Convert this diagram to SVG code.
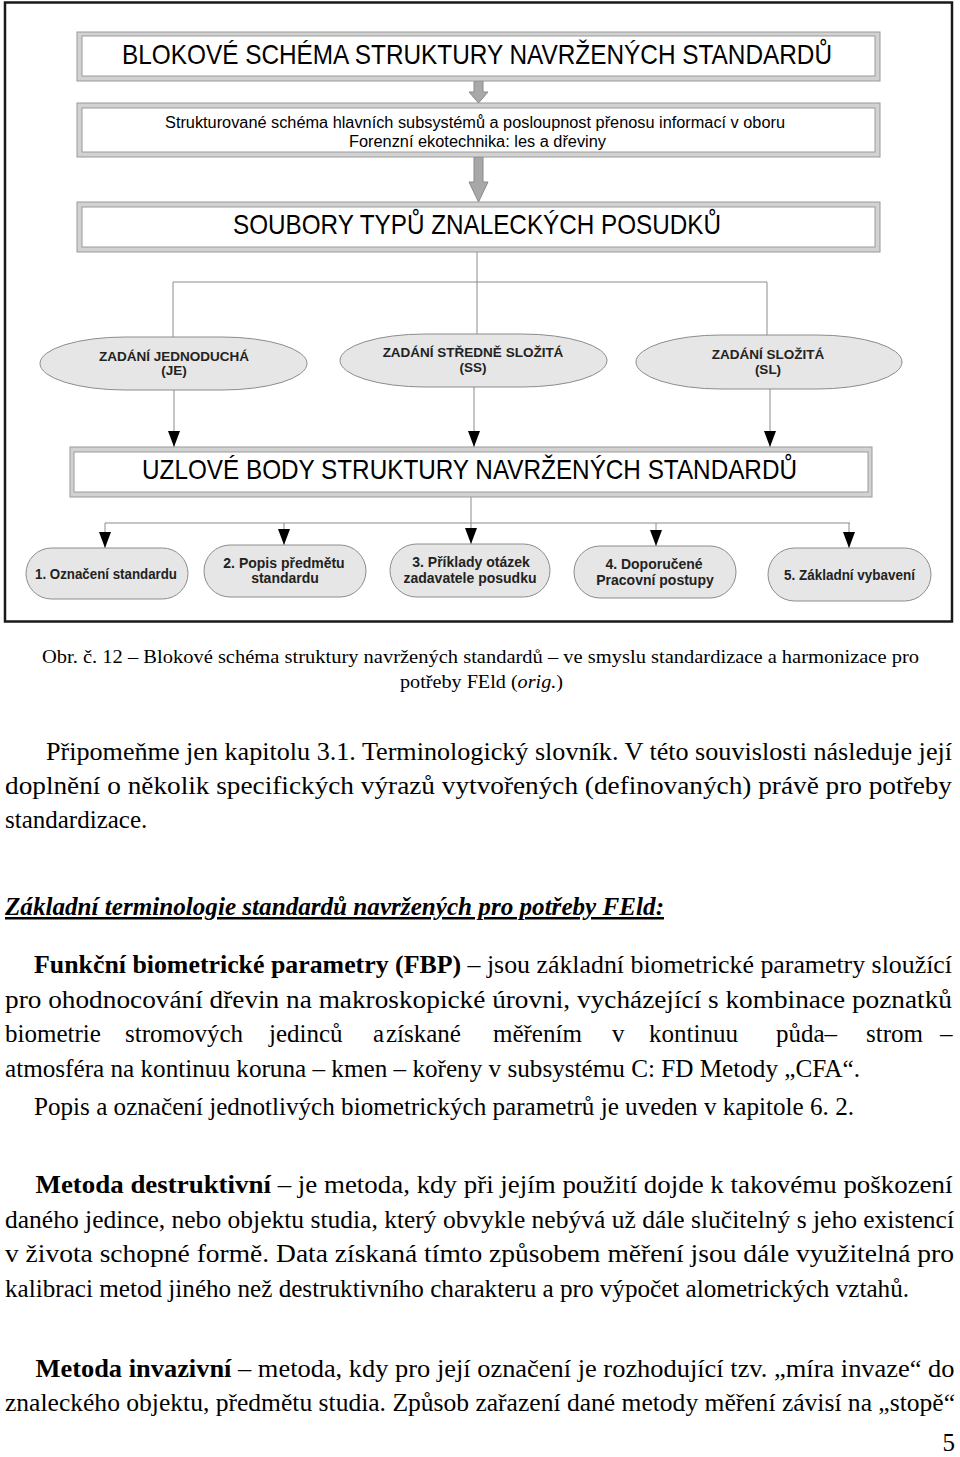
<svg xmlns="http://www.w3.org/2000/svg" width="960" height="1457" viewBox="0 0 960 1457">
<style>
.frame{fill:none;stroke:#1a1a1a;stroke-width:2.5}
.bo{fill:#d2d2d2;stroke:#9a9a9a;stroke-width:1}
.bi{fill:#fff;stroke:#9a9a9a;stroke-width:1}
.ell{fill:#e6e6e6;stroke:#8c8c8c;stroke-width:1}
.blk{fill:#a8a8a8;stroke:#8a8a8a;stroke-width:1}
.conn{fill:none;stroke:#8c8c8c;stroke-width:1}
.big{font-family:"Liberation Sans",Arial,sans-serif;font-size:28px;fill:#000}
.sub{font-family:"Liberation Sans",Arial,sans-serif;font-size:16px;fill:#000}
.nd{font-family:"Liberation Sans",Arial,sans-serif;font-size:13.5px;font-weight:bold;fill:#222;text-anchor:middle}
.nd2{font-family:"Liberation Sans",Arial,sans-serif;font-size:14px;font-weight:bold;fill:#222;text-anchor:middle}
.cap{font-family:"Liberation Serif","Times New Roman",serif;font-size:19.5px;fill:#000}
.bt{font-family:"Liberation Serif","Times New Roman",serif;font-size:25px;fill:#000}
.b{font-weight:bold}
</style>
<defs>
<marker id="tri" viewBox="0 0 16 12" refX="16" refY="6" markerWidth="16" markerHeight="12" markerUnits="userSpaceOnUse" orient="auto">
<path d="M0,0 L16,6 L0,12 z" fill="#000"/>
</marker>
</defs>
<rect width="960" height="1457" fill="#fff"/>
<rect class="frame" x="5" y="2.5" width="947" height="619"/>

<g id="connectors">
<path class="blk" d="M474,81 L483,81 L483,92 L488,92 L478.5,103 L469,92 L474,92 z"/>
<path class="blk" d="M474,157 L483,157 L483,182 L488,182 L478.5,202 L469,182 L474,182 z"/>
<line class="conn" x1="477" y1="252" x2="477" y2="334"/>
<line class="conn" x1="173" y1="282" x2="767" y2="282"/>
<line class="conn" x1="173" y1="282" x2="173" y2="337"/>
<line class="conn" x1="767" y1="282" x2="767" y2="335"/>
<line class="conn" x1="174" y1="390" x2="174" y2="447" marker-end="url(#tri)"/>
<line class="conn" x1="474" y1="387" x2="474" y2="447" marker-end="url(#tri)"/>
<line class="conn" x1="770" y1="389" x2="770" y2="447" marker-end="url(#tri)"/>
<line class="conn" x1="471" y1="497" x2="471" y2="544" marker-end="url(#tri)"/>
<line class="conn" x1="105" y1="523" x2="850" y2="523"/>
<line class="conn" x1="105" y1="523" x2="105" y2="548" marker-end="url(#tri)"/>
<line class="conn" x1="284" y1="523" x2="284" y2="545" marker-end="url(#tri)"/>
<line class="conn" x1="656" y1="523" x2="656" y2="546" marker-end="url(#tri)"/>
<line class="conn" x1="849" y1="523" x2="849" y2="548" marker-end="url(#tri)"/>
</g>

<g id="title">
<rect class="bo" x="77" y="32" width="803" height="49"/>
<rect class="bi" x="82" y="36" width="793" height="40"/>
<text class="big" x="122" y="63.5" textLength="710" lengthAdjust="spacingAndGlyphs">BLOKOVÉ SCHÉMA STRUKTURY NAVRŽENÝCH STANDARDŮ</text>
</g>
<g id="subtitle">
<rect class="bo" x="77" y="103" width="803" height="54"/>
<rect class="bi" x="82" y="108" width="793" height="44"/>
<text class="sub" x="165" y="128" textLength="620" lengthAdjust="spacingAndGlyphs">Strukturované schéma hlavních subsystémů a posloupnost přenosu informací v oboru</text>
<text class="sub" x="349" y="147" textLength="257" lengthAdjust="spacingAndGlyphs">Forenzní ekotechnika: les a dřeviny</text>
</g>
<g id="soubory">
<rect class="bo" x="77" y="202" width="803" height="50"/>
<rect class="bi" x="82" y="207" width="793" height="40"/>
<text class="big" x="233" y="233.5" textLength="488" lengthAdjust="spacingAndGlyphs">SOUBORY TYPŮ ZNALECKÝCH POSUDKŮ</text>
</g>

<g id="je">
<rect class="ell" x="40" y="337" width="267" height="53" rx="85" ry="26.5"/>
<text class="nd" x="174" y="361">ZADÁNÍ JEDNODUCHÁ</text>
<text class="nd" x="174" y="375">(JE)</text>
</g>
<g id="ss">
<rect class="ell" x="340" y="334" width="267" height="53" rx="85" ry="26.5"/>
<text class="nd" x="473" y="357">ZADÁNÍ STŘEDNĚ SLOŽITÁ</text>
<text class="nd" x="473" y="372">(SS)</text>
</g>
<g id="sl">
<rect class="ell" x="636" y="335" width="266" height="54" rx="85" ry="27"/>
<text class="nd" x="768" y="359">ZADÁNÍ SLOŽITÁ</text>
<text class="nd" x="768" y="374">(SL)</text>
</g>

<g id="uzlove">
<rect class="bo" x="70" y="447" width="802" height="50"/>
<rect class="bi" x="74" y="452" width="794" height="40"/>
<text class="big" x="142" y="478.5" textLength="655" lengthAdjust="spacingAndGlyphs">UZLOVÉ BODY STRUKTURY NAVRŽENÝCH STANDARDŮ</text>
</g>

<g id="p1">
<rect class="ell" x="26" y="548" width="162" height="51" rx="25.5"/>
<text class="nd2" x="106" y="579" textLength="142" lengthAdjust="spacingAndGlyphs">1. Označení standardu</text>
</g>
<g id="p2">
<rect class="ell" x="204" y="545" width="162" height="52" rx="26"/>
<text class="nd2" x="284" y="568">2. Popis předmětu</text>
<text class="nd2" x="285" y="583">standardu</text>
</g>
<g id="p3">
<rect class="ell" x="390" y="544" width="160" height="53" rx="26.5"/>
<text class="nd2" x="471" y="567">3. Příklady otázek</text>
<text class="nd2" x="470" y="583">zadavatele posudku</text>
</g>
<g id="p4">
<rect class="ell" x="574" y="546" width="162" height="52" rx="26"/>
<text class="nd2" x="654" y="569">4. Doporučené</text>
<text class="nd2" x="655" y="585">Pracovní postupy</text>
</g>
<g id="p5">
<rect class="ell" x="768" y="548" width="163" height="53" rx="26.5"/>
<text class="nd2" x="849.5" y="580" textLength="131" lengthAdjust="spacingAndGlyphs">5. Základní vybavení</text>
</g>

<g id="caption">
<text class="cap" x="42" y="663" textLength="877" lengthAdjust="spacingAndGlyphs">Obr. č. 12 – Blokové schéma struktury navržených standardů – ve smyslu standardizace a harmonizace pro</text>
<text class="cap" x="400" y="688" textLength="163" lengthAdjust="spacingAndGlyphs">potřeby FEld (<tspan font-style="italic">orig.</tspan>)</text>
</g>

<g id="body">
<text class="bt" x="46" y="760" textLength="906" lengthAdjust="spacingAndGlyphs">Připomeňme jen kapitolu 3.1. Terminologický slovník. V této souvislosti následuje její</text>
<text class="bt" x="5" y="794" textLength="947" lengthAdjust="spacingAndGlyphs">doplnění o několik specifických výrazů vytvořených (definovaných) právě pro potřeby</text>
<text class="bt" x="5" y="828">standardizace.</text>

<text class="bt" x="5" y="915" textLength="659" lengthAdjust="spacingAndGlyphs" font-weight="bold" font-style="italic" text-decoration="underline">Základní terminologie standardů navržených pro potřeby FEld:</text>

<text class="bt" x="34" y="973" textLength="918" lengthAdjust="spacingAndGlyphs"><tspan class="b">Funkční biometrické parametry (FBP)</tspan> – jsou základní biometrické parametry sloužící</text>
<text class="bt" x="5" y="1007.5" textLength="947" lengthAdjust="spacingAndGlyphs">pro ohodnocování dřevin na makroskopické úrovni, vycházející s kombinace poznatků</text>
<text class="bt" y="1042"><tspan x="5">biometrie</tspan><tspan x="125">stromových</tspan><tspan x="269">jedinců</tspan><tspan x="373">a</tspan><tspan x="386">získané</tspan><tspan x="493">měřením</tspan><tspan x="612">v</tspan><tspan x="649">kontinuu</tspan><tspan x="776">půda–</tspan><tspan x="866">strom</tspan><tspan x="940">–</tspan></text>
<text class="bt" x="5" y="1076.5" textLength="855" lengthAdjust="spacingAndGlyphs">atmosféra na kontinuu koruna – kmen – kořeny v subsystému C: FD Metody „CFA“.</text>
<text class="bt" x="34" y="1115" textLength="820" lengthAdjust="spacingAndGlyphs">Popis a označení jednotlivých biometrických parametrů je uveden v kapitole 6. 2.</text>

<text class="bt" x="35.5" y="1193" textLength="917" lengthAdjust="spacingAndGlyphs"><tspan class="b">Metoda destruktivní</tspan> – je metoda, kdy při jejím použití dojde k takovému poškození</text>
<text class="bt" x="5" y="1227.5" textLength="949" lengthAdjust="spacingAndGlyphs">daného jedince, nebo objektu studia, který obvykle nebývá už dále slučitelný s jeho existencí</text>
<text class="bt" x="5" y="1262" textLength="949" lengthAdjust="spacingAndGlyphs">v života schopné formě. Data získaná tímto způsobem měření jsou dále využitelná pro</text>
<text class="bt" x="5" y="1296.5" textLength="904" lengthAdjust="spacingAndGlyphs">kalibraci metod jiného než destruktivního charakteru a pro výpočet alometrických vztahů.</text>

<text class="bt" x="35.5" y="1376.5" textLength="919" lengthAdjust="spacingAndGlyphs"><tspan class="b">Metoda invazivní</tspan> – metoda, kdy pro její označení je rozhodující tzv. „míra invaze“ do</text>
<text class="bt" x="5" y="1411" textLength="950" lengthAdjust="spacingAndGlyphs">znaleckého objektu, předmětu studia. Způsob zařazení dané metody měření závisí na „stopě“</text>

<text class="bt" x="955" y="1451" text-anchor="end">5</text>
</g>
</svg>
